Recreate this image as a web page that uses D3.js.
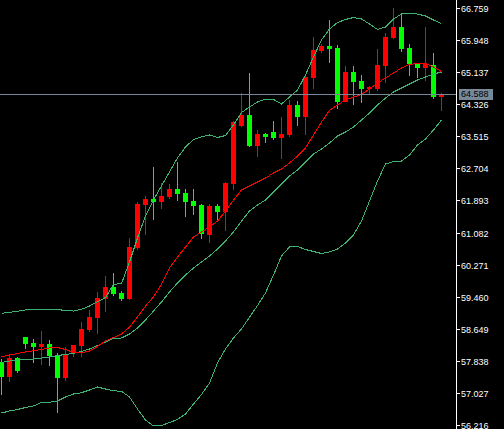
<!DOCTYPE html>
<html>
<head>
<meta charset="utf-8">
<script src="https://cdn.jsdelivr.net/npm/d3@7"></script>
<style>
    html, body { margin: 0; padding: 0; background: #000; }
    #chart { width: 504px; height: 429px; }
    svg { display: block; }
    .tick-label { font-family: "Liberation Sans", Arial, sans-serif; font-size: 9px; fill: #fff; }
</style>
</head>
<body>
<div id="chart"></div>
<script>
///// DATOS //////
let opens = [57.820, 57.441, 57.906, 58.436, 58.300, 58.199, 58.267, 57.989, 57.416, 58.047,
    58.221, 58.621, 58.931, 59.404, 59.699, 59.563, 59.396, 60.699, 61.778, 61.930,
    61.861, 61.988, 62.182, 62.081, 61.879, 61.778, 61.020, 61.753, 61.609, 62.321,
    63.773, 64.051, 63.276, 63.571, 63.622, 63.478, 63.546, 64.304, 64.008, 64.993,
    65.675, 65.794, 65.751, 64.387, 65.150, 64.910, 64.716, 64.700, 65.297, 65.996,
    66.282, 65.736, 65.332, 65.246, 65.314, 64.514];
let highs = [57.888, 57.964, 57.946, 58.451, 58.398, 58.595, 58.368, 58.032, 58.191, 58.254,
    58.823, 59.126, 59.580, 59.985, 60.053, 59.606, 60.932, 61.861, 62.005, 62.738,
    62.326, 62.308, 62.864, 62.182, 62.182, 61.803, 61.803, 61.803, 62.359, 63.900,
    64.599, 65.120, 63.672, 63.604, 63.900, 64.008, 64.430, 64.405, 65.024, 66.029,
    65.837, 66.451, 65.819, 65.289, 65.281, 65.074, 64.796, 65.711, 66.110, 66.746,
    66.620, 65.845, 65.357, 66.274, 65.622, 64.600];
let lows = [56.979, 57.315, 57.542, 58.148, 57.795, 57.737, 57.711, 56.532, 57.332, 57.946,
    57.946, 58.570, 58.527, 59.083, 59.487, 59.361, 59.371, 60.629, 61.020, 61.399,
    61.677, 61.922, 61.879, 61.482, 61.525, 60.912, 60.826, 61.356, 61.129, 62.157,
    63.756, 63.251, 62.998, 63.352, 63.427, 62.940, 63.503, 63.773, 63.546, 64.708,
    65.625, 65.372, 64.195, 64.367, 64.304, 64.347, 64.556, 64.645, 64.852, 65.966,
    65.650, 65.029, 64.993, 64.902, 64.448, 64.160];
let closes = [57.441, 57.906, 57.593, 58.267, 58.199, 58.267, 57.964, 57.416, 58.022, 58.242,
    58.646, 58.949, 59.429, 59.699, 59.530, 59.396, 60.725, 61.803, 61.917, 61.861,
    62.005, 62.182, 62.063, 61.861, 61.760, 61.033, 61.753, 61.609, 62.334, 63.862,
    64.051, 63.268, 63.571, 63.503, 63.470, 63.571, 64.304, 64.008, 65.004, 65.693,
    65.794, 65.718, 64.387, 65.145, 64.892, 64.708, 64.746, 65.314, 66.021, 66.266,
    65.713, 65.332, 65.246, 65.332, 64.506, 64.588];

//Bandas (superior, media, inferior) y media móvil
let upperBand = [59.042, 59.068, 59.093, 59.126, 59.133, 59.143, 59.143, 59.143, 59.108, 59.100,
    59.143, 59.227, 59.335, 59.441, 59.770, 59.795, 60.338, 60.944, 61.500, 61.904,
    62.258, 62.611, 62.965, 63.243, 63.432, 63.496, 63.546, 63.483, 63.533, 63.799,
    64.114, 64.253, 64.380, 64.448, 64.443, 64.329, 64.506, 64.683, 65.062, 65.516,
    65.946, 66.224, 66.388, 66.463, 66.514, 66.476, 66.350, 66.211, 66.274, 66.476,
    66.602, 66.615, 66.602, 66.552, 66.451, 66.362];
let middleBand = [57.800, 57.837, 57.863, 57.875, 57.888, 57.913, 57.939, 57.976, 58.002, 58.027,
    58.078, 58.141, 58.229, 58.317, 58.406, 58.419, 58.520, 58.671, 58.873, 59.100,
    59.328, 59.580, 59.808, 60.010, 60.187, 60.338, 60.490, 60.667, 60.869, 61.096,
    61.374, 61.626, 61.778, 61.904, 62.106, 62.308, 62.510, 62.662, 62.864, 63.066,
    63.192, 63.344, 63.521, 63.622, 63.748, 63.925, 64.102, 64.304, 64.481, 64.632,
    64.733, 64.834, 64.935, 65.011, 65.087, 65.137];
let lowerBand = [56.524, 56.575, 56.612, 56.663, 56.701, 56.789, 56.794, 56.827, 56.928, 57.004,
    57.037, 57.105, 57.181, 57.130, 57.087, 57.072, 56.928, 56.625, 56.347, 56.196,
    56.208, 56.284, 56.360, 56.499, 56.751, 56.991, 57.282, 57.787, 58.141, 58.419,
    58.646, 58.944, 59.239, 59.555, 60.010, 60.490, 60.717, 60.730, 60.654, 60.603,
    60.553, 60.591, 60.667, 60.818, 61.020, 61.374, 61.879, 62.384, 62.814, 62.877,
    62.889, 63.041, 63.293, 63.445, 63.672, 63.925];
let maLine = [57.939, 57.989, 58.027, 58.065, 58.098, 58.128, 58.166, 58.179, 58.128, 58.052,
    58.040, 58.090, 58.204, 58.343, 58.431, 58.520, 58.696, 58.949, 59.227, 59.454,
    59.782, 60.187, 60.464, 60.717, 60.970, 61.096, 61.222, 61.374, 61.626, 61.904,
    62.157, 62.258, 62.359, 62.460, 62.586, 62.687, 62.839, 63.016, 63.218, 63.546,
    63.874, 64.165, 64.304, 64.430, 64.506, 64.569, 64.708, 64.860, 64.986, 65.112,
    65.238, 65.327, 65.352, 65.352, 65.264, 65.150];

//Etiquetas del eje de precios y precio actual
let tickLabels = ['66.759', '65.948', '65.137', '64.326', '63.515', '62.704', '61.893',
    '61.082', '60.271', '59.460', '58.649', '57.838', '57.027', '56.216'];
let currentPrice = 64.588;

///// VISUALIZACIÓN DEL GRÁFICO //////
let chartBlock = d3.select('#chart'), chart, x_c, y_c;

initChart();

function initChart() {
    let width = 504, height = 429, axisX = 456;

    let innerData = opens.map(function(d, i) {
        return { i: i, open: d, high: highs[i], low: lows[i], close: closes[i] };
    });

    chart = chartBlock
        .append('svg')
        .attr('width', width)
        .attr('height', height)
        .style('background', '#000');

    //Escalas
    x_c = d3.scaleLinear()
        .domain([0, innerData.length - 1])
        .range([1.5, 441.5]);

    y_c = d3.scaleLinear()
        .domain([56.216, 66.759])
        .range([425.2, 7.8]);

    let plot = chart.append('g')
        .attr('shape-rendering', 'crispEdges');

    //Velas > mecha + cuerpo
    let candles = plot.selectAll('.candle')
        .data(innerData)
        .enter()
        .append('g')
        .attr('class', 'candle')
        .attr('fill', function(d) { return d.close > d.open ? '#ff0000' : '#00ff00'; });

    candles.append('rect')
        .attr('x', function(d) { return Math.round(x_c(d.i) - 0.5); })
        .attr('y', function(d) { return Math.round(y_c(d.high)); })
        .attr('width', 1)
        .attr('height', function(d) { return Math.max(1, Math.round(y_c(d.low)) - Math.round(y_c(d.high))); });

    candles.append('rect')
        .attr('x', function(d) { return Math.round(x_c(d.i) - 2.5); })
        .attr('y', function(d) { return Math.round(y_c(Math.max(d.open, d.close))); })
        .attr('width', 5)
        .attr('height', function(d) {
            return Math.max(1, Math.round(y_c(Math.min(d.open, d.close))) - Math.round(y_c(Math.max(d.open, d.close))));
        });

    //Líneas del indicador
    let line = d3.line()
        .x(function(d, i) { return x_c(i); })
        .y(function(d) { return y_c(d); });

    [upperBand, middleBand, lowerBand].forEach(function(serie) {
        plot.append('path')
            .attr('d', line(serie))
            .attr('fill', 'none')
            .attr('stroke', '#3cb371')
            .attr('stroke-width', 1);
    });

    plot.append('path')
        .attr('d', line(maLine))
        .attr('fill', 'none')
        .attr('stroke', '#ff0000')
        .attr('stroke-width', 1);

    //Línea de precio actual
    let yPrice = Math.round(y_c(currentPrice)) + 0.5;
    chart.append('line')
        .attr('x1', 0)
        .attr('x2', axisX)
        .attr('y1', yPrice)
        .attr('y2', yPrice)
        .attr('stroke', '#778899')
        .attr('stroke-width', 1);

    //Eje Y a la derecha
    let y_cAxis = chart.append('g')
        .attr('transform', 'translate(' + axisX + ',0)');

    y_cAxis.append('line')
        .attr('x1', 0.5).attr('x2', 0.5)
        .attr('y1', 0).attr('y2', height)
        .attr('stroke', '#fff')
        .attr('shape-rendering', 'crispEdges');

    let ticks = y_cAxis.selectAll('.tick')
        .data(tickLabels)
        .enter()
        .append('g')
        .attr('class', 'tick')
        .attr('transform', function(d) { return 'translate(0,' + (Math.round(y_c(+d)) + 0.5) + ')'; });

    ticks.append('line')
        .attr('x1', 0).attr('x2', 4)
        .attr('stroke', '#fff')
        .attr('shape-rendering', 'crispEdges');

    ticks.append('text')
        .attr('class', 'tick-label')
        .attr('x', 5)
        .attr('dy', '0.35em')
        .text(function(d) { return d; });

    //Etiqueta del precio actual
    let priceTag = chart.append('g')
        .attr('transform', 'translate(' + (axisX + 3) + ',' + (yPrice - 0.5) + ')');

    priceTag.append('rect')
        .attr('x', 0).attr('y', -5)
        .attr('width', 34).attr('height', 11)
        .attr('fill', '#778899');

    priceTag.append('text')
        .attr('class', 'tick-label')
        .attr('x', 2)
        .attr('dy', '0.35em')
        .style('fill', '#000')
        .text(currentPrice.toFixed(3));
}
</script>
</body>
</html>
